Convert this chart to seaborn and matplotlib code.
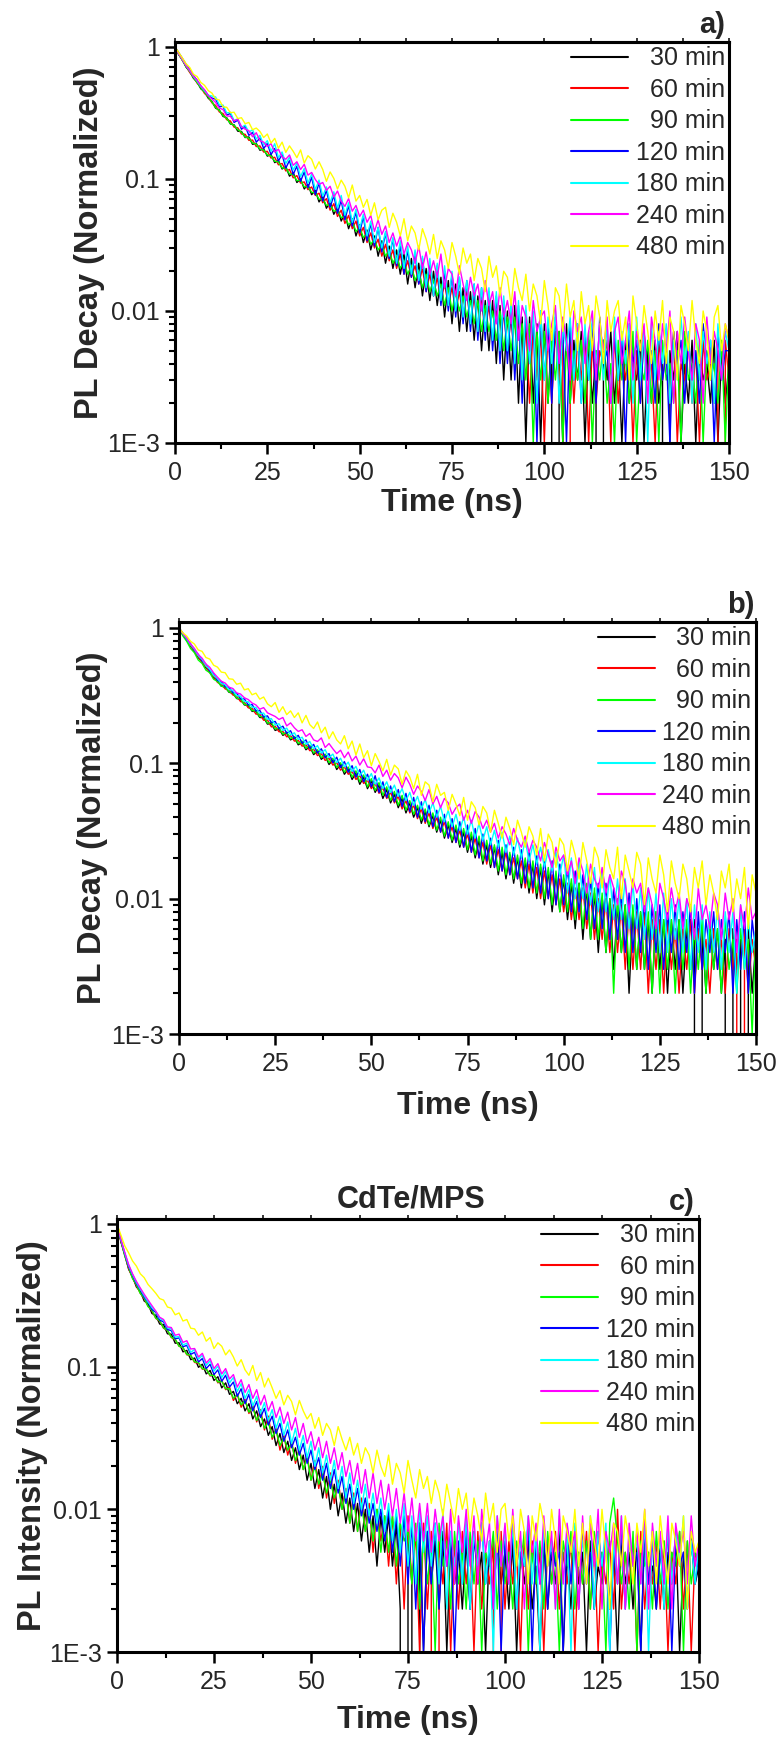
import numpy as np
import pandas as pd
import matplotlib
matplotlib.use("Agg")
import matplotlib.pyplot as plt
from matplotlib.lines import Line2D
from matplotlib.ticker import LogLocator, NullFormatter, MultipleLocator
import seaborn as sns

# ---------------- data (photon counts, peak = 1000, one bin per ns) ----------------
TIME_NS = list(range(0, 151))
PEAK_COUNTS = 1000
SERIES_LABELS = ["30 min", "60 min", "90 min", "120 min", "180 min", "240 min", "480 min"]
LEGEND_LABELS = ["  30 min", "  60 min", "  90 min", "120 min", "180 min", "240 min", "480 min"]
SERIES_COLORS = ["#000000", "#FF0000", "#00FF00", "#0000FF", "#00FFFF", "#FF00FF", "#FFFF00"]
X_TICKS = [0, 25, 50, 75, 100, 125, 150]
Y_TICKS = [1e-3, 1e-2, 1e-1, 1]
Y_TICK_LABELS = ["1E-3", "0.01", "0.1", "1"]

# ---- panel a ----
A_30 = [1000, 874, 798, 703, 651, 579, 541, 482, 458, 409,
        386, 344, 333, 298, 291, 261, 257, 230, 229, 206,
        208, 183, 186, 165, 169, 149, 153, 133, 138, 119,
        124, 105, 112, 94, 100, 84, 91, 76, 82, 67,
        74, 60, 67, 54, 61, 48, 55, 42, 50, 37,
        45, 33, 41, 29, 37, 26, 34, 23, 31, 21,
        29, 19, 27, 16, 25, 15, 23, 13, 21, 12,
        20, 11, 18, 9, 17, 8, 16, 7, 15, 7,
        14, 6, 13, 5, 12, 5, 12, 4, 11, 3,
        10, 3, 11, 2, 9, 1, 9, 2, 8, 1,
        8, 2, 7, 0, 7, 1, 8, 2, 6, 3,
        7, 1, 6, 2, 5, 0, 6, 3, 7, 2,
        5, 1, 6, 2, 4, 3, 6, 1, 5, 2,
        6, 2, 4, 0, 5, 3, 7, 1, 4, 2,
        6, 1, 5, 3, 4, 2, 6, 1, 5, 2,
        4]
A_60 = [1000, 885, 789, 715, 640, 592, 531, 497, 444, 421,
        377, 360, 322, 313, 281, 275, 247, 244, 219, 218,
        196, 197, 176, 178, 160, 162, 144, 146, 128, 131,
        115, 118, 102, 106, 93, 95, 83, 87, 75, 78,
        66, 71, 58, 65, 52, 58, 46, 53, 42, 48,
        37, 43, 33, 39, 30, 35, 26, 32, 24, 29,
        21, 27, 19, 24, 18, 22, 16, 21, 14, 19,
        13, 18, 12, 16, 11, 15, 10, 14, 9, 14,
        8, 13, 7, 12, 7, 11, 6, 10, 5, 10,
        5, 9, 4, 9, 3, 8, 2, 8, 3, 7,
        1, 8, 2, 7, 3, 6, 0, 7, 2, 6,
        3, 7, 1, 6, 2, 5, 4, 6, 1, 7,
        2, 5, 3, 6, 1, 5, 2, 7, 3, 4,
        1, 6, 3, 5, 2, 7, 1, 4, 3, 6,
        2, 5, 1, 6, 3, 4, 2, 5, 0, 6,
        3]
A_90 = [1000, 878, 795, 709, 655, 588, 538, 489, 455, 418,
        384, 348, 330, 302, 288, 263, 255, 236, 226, 208,
        204, 187, 184, 168, 166, 152, 150, 136, 135, 121,
        121, 109, 108, 97, 98, 87, 88, 79, 79, 70,
        71, 63, 64, 57, 58, 51, 52, 45, 48, 40,
        43, 36, 39, 32, 35, 29, 32, 26, 29, 23,
        26, 21, 24, 19, 22, 17, 20, 15, 19, 14,
        17, 13, 16, 11, 15, 10, 14, 10, 13, 9,
        12, 8, 12, 7, 11, 7, 10, 6, 10, 5,
        9, 5, 9, 4, 8, 3, 8, 1, 7, 3,
        7, 2, 6, 3, 7, 1, 6, 2, 5, 3,
        6, 2, 7, 1, 5, 3, 6, 2, 4, 1,
        6, 3, 5, 2, 7, 1, 4, 3, 6, 2,
        5, 1, 6, 3, 4, 2, 5, 1, 7, 3,
        4, 2, 6, 1, 5, 3, 4, 2, 6, 1,
        5]
A_120 = [1000, 905, 820, 738, 671, 607, 559, 506, 468, 430,
         410, 402, 352, 356, 305, 313, 268, 279, 238, 251,
         214, 225, 190, 204, 170, 186, 153, 170, 137, 153,
         121, 138, 108, 125, 96, 113, 86, 103, 76, 93,
         68, 82, 61, 75, 55, 69, 49, 63, 44, 56,
         39, 52, 34, 46, 31, 43, 28, 39, 25, 35,
         22, 31, 19, 29, 18, 27, 16, 25, 14, 23,
         13, 22, 11, 20, 10, 19, 9, 18, 8, 17,
         7, 16, 6, 15, 6, 14, 5, 13, 4, 12,
         4, 11, 3, 11, 2, 10, 4, 9, 1, 10,
         3, 8, 2, 9, 4, 7, 1, 8, 3, 8,
         2, 7, 3, 8, 2, 9, 4, 5, 2, 7,
         3, 6, 1, 8, 4, 6, 2, 7, 3, 5,
         2, 8, 3, 5, 1, 7, 4, 6, 2, 6,
         3, 5, 2, 8, 4, 6, 1, 7, 3, 5,
         5]
A_180 = [1000, 890, 802, 722, 659, 598, 551, 503, 466, 431,
         425, 418, 364, 363, 316, 320, 277, 285, 246, 256,
         226, 236, 201, 214, 181, 195, 162, 185, 145, 160,
         131, 146, 117, 132, 104, 120, 93, 109, 83, 98,
         74, 87, 66, 80, 60, 75, 53, 66, 47, 59,
         42, 54, 37, 48, 33, 43, 30, 40, 26, 36,
         23, 34, 21, 31, 19, 29, 17, 26, 15, 25,
         13, 23, 12, 22, 11, 20, 10, 18, 9, 17,
         8, 16, 7, 15, 7, 15, 6, 14, 5, 13,
         5, 12, 4, 12, 3, 11, 4, 10, 2, 10,
         3, 9, 4, 10, 2, 8, 5, 9, 3, 8,
         2, 8, 3, 9, 4, 7, 3, 8, 2, 9,
         3, 7, 4, 8, 2, 9, 3, 7, 1, 8,
         3, 7, 4, 8, 2, 6, 3, 9, 4, 7,
         2, 8, 3, 7, 4, 6, 2, 8, 3, 7,
         5]
A_240 = [1000, 886, 806, 721, 664, 601, 559, 507, 474, 429,
         403, 380, 344, 336, 301, 298, 275, 284, 249, 238,
         232, 209, 224, 195, 190, 176, 185, 160, 168, 147,
         141, 152, 127, 135, 118, 129, 107, 112, 99, 91,
         94, 82, 88, 73, 81, 68, 62, 71, 57, 63,
         52, 58, 47, 53, 40, 49, 38, 44, 33, 39,
         31, 37, 27, 33, 29, 23, 31, 21, 28, 19,
         24, 18, 27, 15, 21, 19, 13, 22, 16, 12,
         18, 13, 16, 10, 17, 11, 14, 8, 15, 9,
         12, 8, 14, 6, 11, 9, 5, 12, 7, 9,
         10, 5, 8, 11, 4, 9, 6, 3, 10, 7,
         9, 4, 7, 10, 3, 8, 5, 9, 2, 7,
         9, 4, 6, 10, 3, 7, 5, 8, 2, 9,
         6, 3, 8, 5, 10, 2, 7, 4, 9, 5,
         3, 8, 6, 2, 9, 4, 7, 5, 3, 8,
         6]
A_480 = [1000, 908, 824, 745, 699, 621, 596, 538, 512, 467,
         447, 404, 396, 352, 349, 318, 320, 287, 291, 262,
         268, 236, 243, 229, 206, 219, 187, 203, 171, 190,
         159, 178, 162, 145, 166, 132, 150, 141, 119, 135,
         118, 96, 113, 101, 84, 98, 88, 72, 90, 68,
         75, 61, 70, 53, 66, 49, 58, 61, 43, 55,
         47, 37, 50, 34, 44, 39, 29, 42, 35, 27,
         38, 25, 34, 29, 21, 33, 26, 19, 30, 23,
         27, 17, 25, 21, 14, 26, 18, 22, 13, 20,
         18, 11, 21, 15, 12, 19, 10, 16, 13, 8,
         17, 11, 6, 15, 13, 7, 16, 9, 12, 5,
         14, 8, 11, 5, 13, 9, 4, 12, 7, 10,
         12, 6, 9, 3, 13, 8, 5, 11, 7, 4,
         10, 6, 12, 4, 9, 7, 3, 11, 8, 5,
         12, 6, 4, 10, 7, 3, 9, 11, 5, 8,
         6]

# ---- panel b ----
B_30 = [1000, 893, 822, 733, 679, 604, 567, 506, 478, 427,
        407, 372, 366, 335, 330, 301, 297, 270, 268, 242,
        242, 218, 218, 195, 197, 175, 180, 161, 167, 149,
        155, 137, 143, 126, 133, 116, 123, 107, 114, 98,
        106, 90, 98, 83, 91, 76, 85, 70, 79, 65,
        74, 61, 69, 55, 64, 51, 59, 47, 55, 43,
        51, 40, 47, 36, 44, 34, 41, 31, 38, 28,
        35, 26, 33, 24, 31, 22, 29, 20, 27, 18,
        25, 17, 24, 15, 22, 14, 21, 13, 20, 12,
        19, 11, 18, 10, 17, 9, 16, 8, 15, 8,
        14, 7, 13, 6, 13, 5, 12, 5, 11, 4,
        10, 4, 10, 3, 9, 4, 9, 2, 8, 3,
        8, 3, 7, 2, 8, 3, 7, 2, 7, 3,
        7, 2, 6, 3, 7, 0, 6, 2, 7, 3,
        6, 2, 5, 0, 6, 3, 5, 0, 6, 2,
        5]
B_60 = [1000, 905, 811, 746, 668, 618, 556, 520, 466, 441,
        396, 385, 355, 347, 320, 313, 286, 282, 257, 255,
        231, 231, 208, 209, 186, 188, 171, 172, 157, 160,
        146, 148, 134, 137, 124, 127, 114, 118, 105, 109,
        97, 101, 89, 94, 83, 87, 76, 81, 71, 75,
        65, 71, 60, 66, 55, 61, 51, 57, 46, 53,
        43, 49, 39, 46, 36, 43, 33, 40, 31, 37,
        28, 34, 26, 32, 24, 30, 22, 28, 20, 26,
        18, 25, 17, 23, 16, 22, 15, 20, 14, 19,
        12, 18, 11, 17, 10, 16, 10, 15, 9, 14,
        8, 13, 7, 12, 7, 12, 6, 11, 5, 10,
        5, 10, 4, 9, 4, 9, 3, 8, 3, 8,
        3, 8, 2, 7, 3, 7, 2, 7, 3, 6,
        2, 6, 3, 7, 2, 6, 3, 5, 2, 6,
        3, 5, 2, 6, 3, 5, 0, 6, 2, 5,
        3]
B_90 = [1000, 874, 797, 706, 657, 580, 547, 488, 467, 418,
        403, 371, 368, 337, 333, 303, 300, 272, 271, 245,
        245, 221, 222, 198, 201, 179, 183, 164, 170, 152,
        158, 140, 146, 129, 136, 119, 126, 110, 117, 101,
        109, 93, 101, 86, 94, 79, 88, 73, 82, 67,
        77, 63, 72, 58, 67, 53, 62, 49, 58, 45,
        53, 42, 49, 38, 46, 35, 43, 32, 40, 29,
        37, 27, 35, 25, 33, 23, 31, 21, 29, 19,
        27, 18, 25, 16, 24, 15, 22, 14, 21, 13,
        20, 12, 19, 11, 18, 10, 17, 9, 16, 8,
        15, 8, 14, 7, 13, 6, 13, 5, 12, 5,
        11, 4, 10, 2, 10, 4, 9, 3, 9, 3,
        8, 3, 8, 2, 8, 2, 7, 3, 7, 2,
        7, 3, 7, 2, 6, 3, 7, 2, 6, 3,
        6, 2, 7, 3, 5, 2, 6, 3, 5, 1,
        6]
B_120 = [1000, 917, 824, 765, 684, 638, 571, 539, 481, 458,
         410, 402, 368, 364, 333, 330, 300, 299, 270, 272,
         244, 246, 220, 224, 200, 204, 181, 188, 167, 174,
         152, 161, 141, 149, 129, 138, 119, 128, 110, 118,
         101, 111, 93, 103, 86, 96, 79, 90, 73, 83,
         67, 81, 61, 73, 56, 68, 52, 64, 48, 60,
         44, 56, 40, 52, 37, 49, 34, 45, 31, 42,
         28, 39, 26, 37, 24, 35, 22, 33, 20, 30,
         19, 28, 17, 27, 16, 25, 15, 24, 14, 23,
         13, 22, 12, 21, 11, 20, 10, 19, 9, 18,
         9, 17, 8, 16, 8, 15, 7, 14, 6, 13,
         6, 13, 5, 12, 5, 11, 4, 11, 4, 10,
         4, 10, 3, 9, 4, 9, 3, 8, 4, 9,
         3, 8, 4, 9, 2, 8, 3, 7, 4, 8,
         3, 7, 4, 8, 2, 7, 3, 8, 2, 7,
         4]
B_180 = [1000, 908, 833, 752, 696, 624, 585, 525, 495, 446,
         423, 388, 382, 350, 347, 316, 314, 286, 285, 259,
         259, 233, 235, 211, 214, 192, 196, 175, 182, 162,
         168, 150, 156, 138, 145, 128, 135, 119, 126, 110,
         117, 101, 109, 94, 102, 87, 95, 81, 89, 75,
         84, 70, 78, 65, 73, 61, 69, 57, 65, 53,
         61, 49, 57, 46, 54, 43, 51, 40, 48, 37,
         45, 34, 42, 32, 40, 30, 38, 28, 36, 27,
         34, 25, 32, 24, 31, 22, 29, 21, 28, 20,
         27, 19, 25, 18, 24, 17, 23, 16, 22, 15,
         21, 11, 20, 10, 19, 10, 18, 9, 17, 8,
         16, 8, 15, 7, 14, 7, 14, 6, 13, 6,
         12, 5, 12, 5, 11, 4, 11, 4, 10, 5,
         10, 4, 10, 3, 9, 4, 9, 3, 8, 4,
         9, 3, 8, 4, 8, 2, 9, 3, 7, 4,
         6]
B_240 = [1000, 909, 844, 762, 706, 637, 598, 541, 512, 466,
         433, 404, 392, 365, 357, 331, 325, 305, 296, 279,
         270, 251, 258, 236, 229, 222, 211, 218, 189, 199,
         183, 172, 177, 158, 166, 149, 145, 154, 131, 140,
         128, 118, 125, 110, 121, 104, 113, 97, 108, 94,
         93, 85, 97, 80, 89, 75, 84, 78, 66, 79,
         70, 59, 68, 62, 53, 64, 50, 57, 47, 55,
         51, 42, 47, 50, 38, 45, 36, 44, 40, 33,
         38, 31, 36, 28, 34, 30, 25, 33, 27, 24,
         29, 22, 27, 24, 19, 26, 21, 17, 24, 19,
         21, 15, 19, 13, 20, 16, 11, 18, 14, 12,
         17, 11, 15, 12, 9, 16, 13, 8, 14, 11,
         13, 8, 12, 9, 6, 13, 10, 7, 12, 8,
         11, 6, 10, 8, 5, 12, 7, 9, 6, 11,
         9, 5, 11, 7, 10, 4, 9, 6, 12, 7,
         8]
B_480 = [1000, 921, 872, 798, 761, 688, 672, 605, 589, 531,
         514, 472, 467, 421, 418, 384, 391, 349, 356, 321,
         330, 298, 309, 275, 262, 281, 238, 262, 229, 244,
         218, 236, 199, 226, 193, 181, 202, 168, 185, 152,
         171, 149, 139, 160, 128, 146, 115, 139, 110, 124,
         96, 118, 103, 88, 107, 82, 97, 91, 70, 88,
         79, 65, 83, 58, 73, 69, 52, 70, 58, 61,
         45, 59, 50, 41, 56, 38, 52, 47, 35, 48,
         43, 31, 45, 36, 28, 40, 33, 25, 38, 31,
         24, 34, 29, 21, 33, 19, 30, 26, 17, 28,
         25, 16, 27, 21, 14, 26, 19, 13, 24, 20,
         12, 23, 17, 14, 24, 10, 21, 16, 12, 22,
         18, 9, 20, 14, 11, 21, 15, 8, 19, 13,
         10, 18, 14, 8, 17, 12, 19, 9, 15, 11,
         7, 16, 12, 18, 8, 14, 10, 17, 6, 15,
         11]

# ---- panel c ----
C_30 = [1000, 752, 611, 482, 428, 362, 338, 289, 276, 236,
        229, 199, 197, 170, 169, 146, 147, 127, 130, 112,
        115, 99, 104, 89, 94, 80, 85, 71, 77, 64,
        67, 55, 60, 49, 55, 43, 49, 38, 43, 33,
        38, 28, 34, 25, 30, 22, 27, 19, 24, 16,
        21, 14, 19, 12, 17, 10, 15, 9, 13, 8,
        12, 7, 11, 6, 10, 5, 9, 4, 9, 5,
        9, 4, 8, 2, 0, 7, 3, 0, 8, 1,
        7, 3, 6, 2, 7, 1, 6, 3, 5, 2,
        6, 2, 7, 3, 5, 1, 6, 2, 7, 3,
        5, 2, 6, 1, 5, 3, 6, 2, 4, 1,
        6, 2, 5, 3, 7, 1, 5, 2, 6, 3,
        5, 1, 6, 2, 4, 3, 7, 2, 5, 1,
        6, 3, 5, 2, 6, 1, 7, 3, 4, 2,
        6, 2, 5, 3, 7, 1, 5, 2, 6, 3,
        4]
C_60 = [1000, 757, 604, 488, 418, 371, 327, 300, 265, 247,
        218, 209, 186, 180, 160, 155, 139, 136, 121, 120,
        107, 106, 96, 97, 86, 88, 77, 80, 69, 72,
        58, 64, 52, 59, 47, 54, 41, 50, 36, 45,
        31, 37, 26, 33, 24, 30, 21, 27, 19, 24,
        16, 22, 14, 20, 12, 18, 11, 16, 10, 14,
        8, 13, 7, 12, 7, 11, 5, 10, 6, 9,
        4, 9, 3, 8, 2, 9, 3, 7, 1, 8,
        2, 7, 0, 6, 3, 8, 1, 6, 2, 7,
        3, 6, 1, 7, 2, 5, 3, 6, 0, 7,
        2, 6, 3, 5, 1, 7, 2, 6, 3, 5,
        1, 6, 3, 7, 2, 5, 3, 6, 1, 5,
        3, 7, 2, 6, 1, 5, 3, 6, 2, 10,
        2, 5, 3, 6, 1, 7, 2, 5, 3, 6,
        2, 6, 1, 5, 3, 7, 2, 6, 1, 5,
        4]
C_90 = [1000, 766, 597, 497, 415, 376, 326, 303, 264, 249,
        219, 210, 187, 180, 161, 156, 139, 136, 122, 120,
        108, 107, 97, 96, 87, 87, 78, 79, 70, 70,
        60, 64, 54, 58, 48, 52, 42, 47, 37, 41,
        32, 36, 28, 32, 26, 29, 22, 26, 19, 23,
        16, 20, 15, 18, 13, 16, 12, 15, 10, 13,
        8, 12, 7, 11, 7, 10, 6, 10, 5, 9,
        5, 9, 4, 8, 6, 7, 3, 8, 2, 7,
        3, 6, 1, 8, 4, 6, 2, 7, 3, 5,
        2, 7, 3, 6, 1, 5, 4, 7, 2, 6,
        3, 5, 2, 6, 4, 7, 1, 5, 3, 6,
        2, 7, 3, 5, 1, 6, 4, 7, 2, 5,
        3, 6, 2, 7, 4, 5, 1, 8, 12, 6,
        3, 5, 2, 7, 1, 6, 4, 5, 2, 7,
        3, 6, 2, 5, 4, 7, 1, 6, 3, 5,
        4]
C_120 = [1000, 770, 620, 503, 438, 382, 346, 307, 283, 252,
         240, 212, 206, 182, 179, 157, 159, 138, 141, 122,
         126, 108, 114, 97, 104, 88, 95, 79, 87, 72,
         78, 62, 70, 55, 64, 49, 57, 44, 51, 39,
         45, 34, 40, 30, 36, 27, 32, 24, 29, 21,
         26, 19, 23, 16, 21, 14, 19, 13, 17, 11,
         15, 10, 14, 9, 12, 8, 11, 7, 10, 6,
         10, 5, 9, 4, 9, 3, 8, 2, 8, 1,
         7, 3, 8, 2, 6, 4, 7, 1, 6, 3,
         7, 2, 6, 4, 8, 3, 5, 2, 7, 1,
         6, 3, 7, 2, 5, 4, 8, 1, 6, 3,
         7, 2, 6, 4, 5, 1, 7, 3, 6, 2,
         8, 3, 5, 2, 7, 4, 6, 1, 5, 3,
         7, 2, 6, 4, 5, 1, 8, 3, 6, 2,
         5, 3, 7, 1, 6, 4, 5, 2, 7, 3,
         5]
C_180 = [1000, 781, 627, 514, 443, 390, 349, 315, 285, 260,
         244, 218, 210, 187, 184, 161, 163, 142, 146, 126,
         132, 113, 120, 102, 110, 93, 101, 84, 93, 77,
         84, 67, 76, 60, 69, 53, 62, 47, 56, 42,
         50, 37, 45, 33, 41, 29, 37, 26, 33, 23,
         30, 20, 27, 18, 24, 16, 22, 14, 20, 12,
         18, 11, 16, 10, 15, 9, 13, 8, 12, 7,
         11, 6, 10, 5, 11, 4, 9, 3, 10, 5,
         9, 4, 8, 3, 10, 2, 7, 4, 8, 3,
         9, 2, 7, 4, 8, 3, 6, 1, 9, 4,
         7, 3, 8, 2, 6, 4, 9, 3, 7, 1,
         8, 4, 6, 2, 9, 3, 7, 1, 8, 4,
         6, 3, 9, 2, 7, 4, 8, 1, 6, 3,
         9, 2, 7, 4, 6, 3, 8, 1, 7, 4,
         6, 2, 8, 3, 7, 4, 9, 2, 6, 3,
         6]
C_240 = [1000, 785, 632, 520, 448, 396, 356, 322, 293, 268,
         245, 222, 214, 190, 188, 166, 169, 148, 152, 133,
         134, 117, 124, 106, 114, 97, 105, 89, 97, 82,
         88, 72, 81, 66, 75, 60, 69, 54, 63, 49,
         57, 44, 52, 40, 48, 36, 44, 32, 40, 29,
         35, 26, 32, 23, 30, 21, 27, 19, 25, 17,
         22, 15, 21, 13, 19, 12, 18, 11, 16, 10,
         15, 9, 14, 8, 13, 7, 12, 6, 11, 6,
         11, 5, 10, 6, 9, 4, 10, 3, 9, 5,
         10, 4, 9, 3, 10, 5, 8, 2, 9, 4,
         8, 3, 10, 4, 7, 2, 9, 5, 8, 3,
         9, 4, 7, 2, 10, 3, 8, 5, 7, 2,
         9, 3, 8, 4, 10, 2, 7, 5, 8, 3,
         9, 2, 8, 4, 7, 3, 10, 2, 8, 4,
         7, 3, 9, 2, 8, 5, 7, 3, 9, 4,
         6]
C_480 = [1000, 838, 702, 628, 551, 507, 448, 421, 377, 352,
         327, 300, 293, 262, 257, 231, 238, 209, 214, 186,
         184, 166, 175, 151, 160, 134, 147, 139, 121, 131,
         117, 101, 112, 95, 87, 102, 80, 91, 72, 83,
         71, 60, 68, 54, 63, 57, 46, 58, 49, 43,
         47, 37, 44, 33, 40, 36, 28, 38, 31, 26,
         32, 24, 29, 21, 27, 24, 18, 26, 20, 17,
         24, 15, 21, 18, 13, 22, 16, 12, 19, 14,
         17, 11, 16, 13, 9, 15, 11, 8, 14, 10,
         13, 7, 12, 9, 6, 13, 8, 11, 5, 10,
         11, 6, 9, 4, 10, 7, 3, 9, 6, 11,
         8, 4, 10, 6, 3, 9, 7, 5, 10, 4,
         8, 3, 9, 6, 4, 10, 5, 2, 8, 7,
         4, 9, 6, 3, 8, 5, 10, 4, 7, 3,
         9, 5, 3, 8, 6, 4, 9, 2, 7, 5,
         6]

PANEL_A = [A_30, A_60, A_90, A_120, A_180, A_240, A_480]
PANEL_B = [B_30, B_60, B_90, B_120, B_180, B_240, B_480]
PANEL_C = [C_30, C_60, C_90, C_120, C_180, C_240, C_480]

# ---------------- style ----------------
sns.set_style("ticks")
plt.rcParams["font.family"] = ["Liberation Sans", "DejaVu Sans"]
plt.rcParams["axes.linewidth"] = 2.2

W, H = 777, 1738
fig = plt.figure(figsize=(W / 100, H / 100), dpi=100)
fig.patch.set_facecolor("white")


def rect_px(left, top, right, bottom):
    return [left / W, 1 - bottom / H, (right - left) / W, (bottom - top) / H]


def long_frame(series_list):
    frames = []
    for lab, vals in zip(SERIES_LABELS, series_list):
        n = min(len(TIME_NS), len(vals))
        frames.append(pd.DataFrame({
            "Time": TIME_NS[:n],
            "Signal": np.asarray(vals[:n], dtype=float) / PEAK_COUNTS,
            "Series": lab,
        }))
    return pd.concat(frames, ignore_index=True)


panels = [
    dict(data=PANEL_A, rect=rect_px(175, 42, 729, 443), ytop=1.09,
         ylabel="PL Decay (Normalized)", ylab_x=-0.126, xlab_y=-0.112),
    dict(data=PANEL_B, rect=rect_px(179, 622, 756, 1034), ytop=1.107,
         ylabel="PL Decay (Normalized)", ylab_x=-0.123, xlab_y=-0.138),
    dict(data=PANEL_C, rect=rect_px(117, 1219, 699, 1652), ytop=1.084,
         ylabel="PL Intensity (Normalized)", ylab_x=-0.119, xlab_y=-0.122),
]

palette = dict(zip(SERIES_LABELS, SERIES_COLORS))

for p in panels:
    ax = fig.add_axes(p["rect"])
    df = long_frame(p["data"])
    sns.lineplot(data=df, x="Time", y="Signal", hue="Series",
                 hue_order=SERIES_LABELS, palette=palette,
                 estimator=None, sort=False, linewidth=1.0,
                 legend=False, ax=ax)
    ax.set_yscale("log")
    ax.set_xlim(0, 150)
    ax.set_ylim(1e-3, p["ytop"])

    ax.set_yticks(Y_TICKS)
    ax.set_yticklabels(Y_TICK_LABELS)
    ax.yaxis.set_minor_locator(LogLocator(base=10, subs=[2, 3, 4, 5, 6, 7, 8, 9]))
    ax.yaxis.set_minor_formatter(NullFormatter())
    ax.set_xticks(X_TICKS)
    ax.xaxis.set_minor_locator(MultipleLocator(12.5))

    ax.tick_params(axis="both", which="major", direction="out", length=7,
                   width=1.8, labelsize=18, pad=4, color="black")
    ax.tick_params(axis="both", which="minor", direction="out", length=4,
                   width=1.5, color="black")
    ax.tick_params(axis="x", which="major", length=8, pad=5)
    for s in ax.spines.values():
        s.set_linewidth(2.2)
        s.set_color("black")
        s.set_visible(True)

    sec = ax.secondary_xaxis("top")
    sec.set_xticks(X_TICKS)
    sec.xaxis.set_minor_locator(MultipleLocator(12.5))
    sec.tick_params(axis="x", which="both", direction="out", length=3,
                    width=1.3, labeltop=False)
    sec.spines["top"].set_linewidth(2.2)

    ax.set_xlabel("Time (ns)", fontsize=23, fontweight="bold")
    ax.xaxis.set_label_coords(0.5, p["xlab_y"])
    ax.set_ylabel(p["ylabel"], fontsize=23.5, fontweight="bold")
    ax.yaxis.set_label_coords(p["ylab_x"], 0.5)

    handles = [Line2D([0], [0], color=c, lw=1.5) for c in SERIES_COLORS]
    ax.legend(handles, LEGEND_LABELS, loc="upper right",
              bbox_to_anchor=(1.0, 1.0), frameon=False, fontsize=18,
              handlelength=2.3, handletextpad=0.3, labelspacing=0.3,
              borderpad=0.17, borderaxespad=0.0)

fig.text(712 / W, 1 - 25 / H, "a)", ha="center", va="center",
         fontsize=21, fontweight="bold")
fig.text(741 / W, 1 - 605 / H, "b)", ha="center", va="center",
         fontsize=21, fontweight="bold")
fig.text(682 / W, 1 - 1202 / H, "c)", ha="center", va="center",
         fontsize=21, fontweight="bold")
fig.text(411 / W, 1 - 1200 / H, "CdTe/MPS", ha="center", va="center",
         fontsize=22, fontweight="bold")

fig.savefig("out.png", dpi=100, facecolor="white")
